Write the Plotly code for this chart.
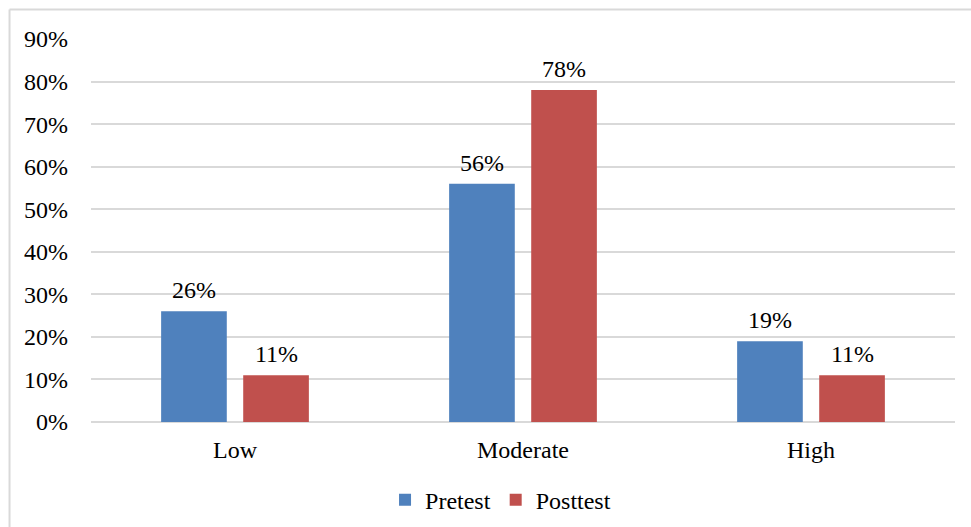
import plotly.graph_objects as go

categories = ["Low", "Moderate", "High"]
pretest = [26, 56, 19]
posttest = [11, 78, 11]
y_ticks = [0, 10, 20, 30, 40, 50, 60, 70, 80, 90]
y_tick_labels = [f"{v}%" for v in y_ticks]

FONT = "Times New Roman, Liberation Serif, Tinos, DejaVu Serif, serif"
GRID = "#d9d9d9"
FS = 24

fig = go.Figure()
fig.add_trace(go.Bar(name="Pretest", x=categories, y=pretest,
                     marker=dict(color="#4f81bd", line=dict(width=0))))
fig.add_trace(go.Bar(name="Posttest", x=categories, y=posttest,
                     marker=dict(color="#c0504d", line=dict(width=0))))

# value labels above each bar (bars sit 41 px either side of the category centre)
annotations = []
for series, shift in ((pretest, -41), (posttest, 41)):
    for cat, v in zip(categories, series):
        annotations.append(dict(x=cat, y=v, xref="x", yref="y", text=f"{v}%",
                                showarrow=False, xanchor="center", yanchor="bottom",
                                xshift=shift, yshift=6,
                                font=dict(family=FONT, size=FS, color="black")))

fig.update_layout(
    width=971, height=527,
    margin=dict(l=91, r=16, t=39, b=105, autoexpand=False),
    paper_bgcolor="white", plot_bgcolor="white",
    font=dict(family=FONT, size=FS, color="black"),
    barmode="group", bargap=0.43, bargroupgap=0.2,
    showlegend=True,
    legend=dict(orientation="h", x=0.474, xanchor="center", y=-0.204, yanchor="middle",
                font=dict(family=FONT, size=FS, color="black"), itemwidth=30,
                tracegroupgap=0),
    annotations=annotations,
    shapes=[
        dict(type="line", xref="paper", yref="paper", x0=-0.0943, x1=1.2, y0=1.077, y1=1.077,
             line=dict(color=GRID, width=2)),
        dict(type="line", xref="paper", yref="paper", x0=-0.0943, x1=-0.0943, y0=1.077, y1=-0.4,
             line=dict(color=GRID, width=2)),
    ],
)
fig.update_yaxes(range=[0, 90], tickvals=y_ticks, ticktext=y_tick_labels,
                 showgrid=True, gridcolor=GRID, gridwidth=1.5,
                 zeroline=True, zerolinecolor=GRID, zerolinewidth=1.5,
                 showline=False, ticks="", ticklabelstandoff=22,
                 tickfont=dict(family=FONT, size=FS, color="black"))
fig.update_xaxes(showgrid=False, showline=False, ticks="", ticklabelstandoff=11,
                 tickfont=dict(family=FONT, size=FS, color="black"))

fig.write_html("out.html")
